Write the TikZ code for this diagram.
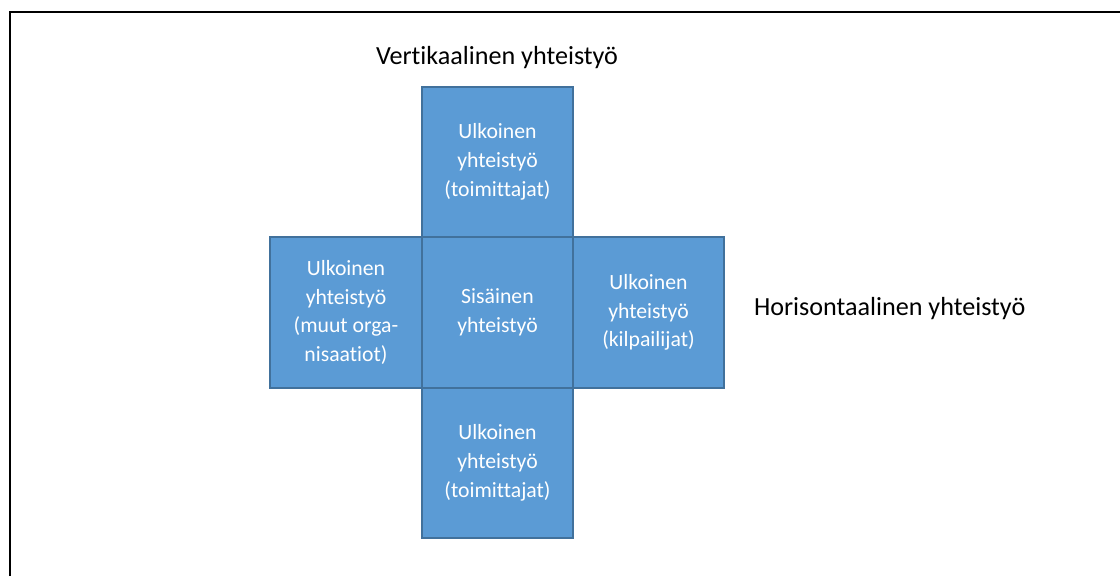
\documentclass[tikz,border=0pt]{standalone}
\usepackage{fontspec}
\setmainfont[Ligatures=NoCommon]{Carlito}
\definecolor{boxfill}{HTML}{5B9BD5}
\definecolor{boxline}{HTML}{41719C}
\begin{document}
\begin{tikzpicture}[x=0.75pt,y=-0.75pt,
  cell/.style={rectangle, draw=boxline, fill=boxfill, line width=2*0.75pt,
    minimum width=151.5*0.75pt, minimum height=150.5*0.75pt, inner sep=0pt,
    text=white, align=center, font=\fontsize{16.3}{21.6}\selectfont},
  axislabel/.style={text=black, inner sep=0pt, font=\fontsize{19.6}{23}\selectfont}]
  \useasboundingbox (0,0) rectangle (1120,576);
  % frame: only the left and top edges are visible
  \draw[line width=2*0.75pt, black] (10.3,576) -- (10.3,12.3) -- (1120,12.3);

  % cross of cooperation cells
  \node[cell] (top)    at (497.5,162)   {Ulkoinen\\yhteistyö\\(toimittajat)};
  \node[cell] (bottom) at (497.5,463)   {Ulkoinen\\yhteistyö\\(toimittajat)};
  \node[cell] (left)   at (346,312.5)   {Ulkoinen\\yhteistyö\\(muut orga-\\nisaatiot)};
  \node[cell] (right)  at (648.5,312.5) {Ulkoinen\\yhteistyö\\(kilpailijat)};
  \node[cell] (center) at (497.5,312.5) {Sisäinen\\yhteistyö};

  % axis labels
  \node[axislabel] (vlabel) at (497,58)  {Vertikaalinen yhteistyö};
  \node[axislabel] (hlabel) at (889.7,309) {Horisontaalinen yhteistyö};
\end{tikzpicture}
\end{document}
